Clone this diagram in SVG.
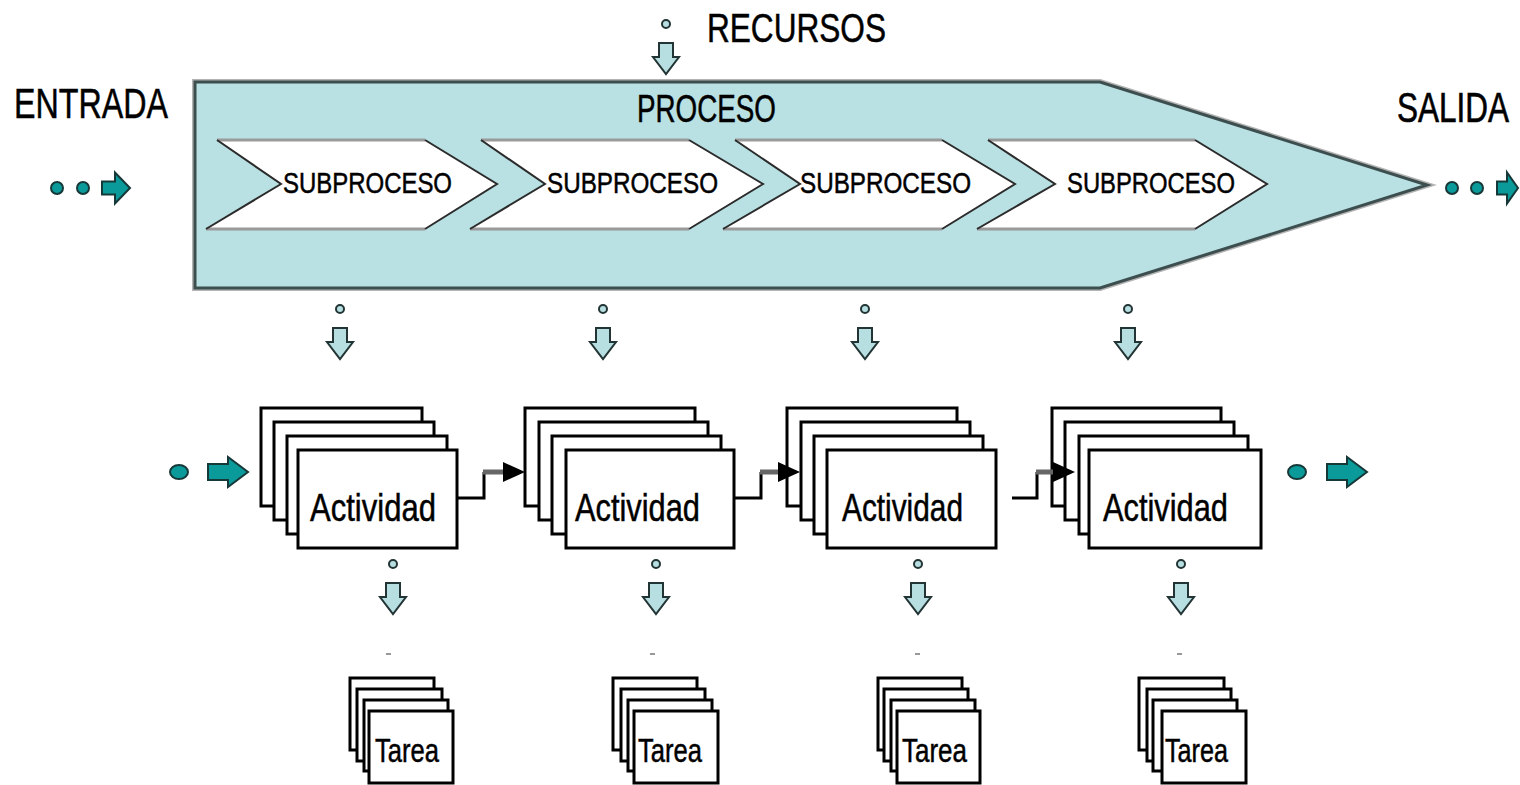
<svg xmlns="http://www.w3.org/2000/svg" xmlns:xlink="http://www.w3.org/1999/xlink" width="1520" height="785" viewBox="0 0 1520 785">
  <defs>
    <style>
      .lbl { font-family: "Liberation Sans", Arial, sans-serif; fill: #000; stroke: #000; stroke-width: 0.5; }
      .box { fill: #fff; stroke: #000; stroke-width: 3; }
      .teal { fill: #0a9a9a; stroke: #173838; stroke-width: 2; }
      .res { fill: #b7dfe2; stroke: #233434; stroke-width: 2; }
      .chev { fill: #fff; }
      .chev-h { stroke: #9a9a9a; stroke-width: 3; fill: none; }
      .chev-d { stroke: #2b2b2b; stroke-width: 2; fill: none; }
      .link { fill: none; stroke: #000; stroke-width: 3; }
      .link-end { stroke: #666; stroke-width: 5; }
      .tick { fill: #999; }
    </style>
    <!-- light blue resource arrow pointing down, origin at top centre -->
    <path id="downArrow" class="res" d="M-7,0 h14 v14 h6 l-13,17 l-13,-17 h6 z"/>
    <!-- teal flow arrow pointing right, origin at left middle -->
    <path id="rightArrow" class="teal" d="M0,-8 h20 v-7 l20,15 l-20,15 v-7 h-20 z"/>
    <path id="rightArrowSmall" class="teal" d="M0,-6.5 h13 v-9 l15,15.5 l-15,15.5 v-9 h-13 z"/>
    <path id="rightArrowEdge" class="teal" d="M0,-6.5 h10 v-9 l11,15.5 l-11,15.5 v-9 h-10 z"/>
  </defs>

  <rect width="1520" height="785" fill="#fff"/>

  <!-- Inputs, outputs and resources -->
  <g id="entrada">
    <text class="lbl" x="14" y="118" font-size="42" textLength="154" lengthAdjust="spacingAndGlyphs">ENTRADA</text>
    <circle class="teal" cx="57" cy="188" r="6"/>
    <circle class="teal" cx="83" cy="188" r="6"/>
    <use xlink:href="#rightArrowSmall" x="102" y="188"/>
  </g>

  <g id="salida">
    <!-- tall narrow lettering: smaller font stretched vertically -->
    <text class="lbl" x="0" y="0" font-size="31.5" transform="translate(1397 122) scale(1 1.33)" stroke-width="0.4">SALIDA</text>
    <circle class="teal" cx="1452" cy="188" r="6"/>
    <circle class="teal" cx="1477" cy="188" r="6"/>
    <use xlink:href="#rightArrowEdge" x="1497" y="188"/>
  </g>

  <g id="recursos">
    <text class="lbl" x="707" y="42" font-size="40" textLength="179" lengthAdjust="spacingAndGlyphs">RECURSOS</text>
    <circle class="res" cx="666" cy="24" r="4"/>
    <use xlink:href="#downArrow" x="666" y="43"/>
  </g>

  <!-- Process band -->
  <g id="proceso">
    <polygon points="195,82 1100,82 1427,185 1100,288 195,288" fill="none" stroke="#b4b4b4" stroke-width="6"/>
    <polygon points="195,82 1100,82 1427,185 1100,288 195,288" fill="#b9e0e3" stroke="#3d4e4f" stroke-width="3"/>
    <text class="lbl" x="637" y="122" font-size="38" textLength="139" lengthAdjust="spacingAndGlyphs">PROCESO</text>
  </g>

  <g id="subproceso-1">
    <polygon class="chev" points="217,140 425,140 497,184 425,229 206,229 281,184"/>
    <path class="chev-h" d="M217,140 H425 M206,229 H425"/>
    <path class="chev-d" d="M217,140 L281,184 L206,229 M425,140 L497,184 L425,229"/>
    <text class="lbl" x="283" y="193" font-size="29" textLength="169" lengthAdjust="spacingAndGlyphs">SUBPROCESO</text>
  </g>
  <g id="subproceso-2">
    <polygon class="chev" points="481,140 689,140 763,184 689,229 470,229 545,184"/>
    <path class="chev-h" d="M481,140 H689 M470,229 H689"/>
    <path class="chev-d" d="M481,140 L545,184 L470,229 M689,140 L763,184 L689,229"/>
    <text class="lbl" x="547" y="193" font-size="29" textLength="171" lengthAdjust="spacingAndGlyphs">SUBPROCESO</text>
  </g>
  <g id="subproceso-3">
    <polygon class="chev" points="735,140 942,140 1015,184 942,229 723,229 800,184"/>
    <path class="chev-h" d="M735,140 H942 M723,229 H942"/>
    <path class="chev-d" d="M735,140 L800,184 L723,229 M942,140 L1015,184 L942,229"/>
    <text class="lbl" x="800" y="193" font-size="29" textLength="171" lengthAdjust="spacingAndGlyphs">SUBPROCESO</text>
  </g>
  <g id="subproceso-4">
    <polygon class="chev" points="988,140 1195,140 1267,184 1195,229 977,229 1055,184"/>
    <path class="chev-h" d="M988,140 H1195 M977,229 H1195"/>
    <path class="chev-d" d="M988,140 L1055,184 L977,229 M1195,140 L1267,184 L1195,229"/>
    <text class="lbl" x="1067" y="193" font-size="29" textLength="168" lengthAdjust="spacingAndGlyphs">SUBPROCESO</text>
  </g>

  <!-- Resource feeds into the activity level -->
  <g id="feeds-actividad">
    <circle class="res" cx="340" cy="309" r="4"/>
    <use xlink:href="#downArrow" x="340" y="328"/>
    <circle class="res" cx="603" cy="309" r="4"/>
    <use xlink:href="#downArrow" x="603" y="328"/>
    <circle class="res" cx="865" cy="309" r="4"/>
    <use xlink:href="#downArrow" x="865" y="328"/>
    <circle class="res" cx="1128" cy="309" r="4"/>
    <use xlink:href="#downArrow" x="1128" y="328"/>
  </g>

  <!-- Activity stacks -->
  <g id="actividad-1">
    <rect class="box" x="261" y="408" width="161" height="98"/>
    <rect class="box" x="274" y="422" width="160" height="98"/>
    <rect class="box" x="287" y="436" width="160" height="98"/>
    <rect class="box" x="298" y="450" width="159" height="98"/>
    <text class="lbl" x="310" y="521" font-size="39" textLength="126" lengthAdjust="spacingAndGlyphs">Actividad</text>
  </g>
  <g id="actividad-2">
    <rect class="box" x="525" y="408" width="170" height="98"/>
    <rect class="box" x="539" y="422" width="169" height="98"/>
    <rect class="box" x="552" y="436" width="169" height="98"/>
    <rect class="box" x="566" y="450" width="168" height="98"/>
    <text class="lbl" x="575" y="521" font-size="39" textLength="125" lengthAdjust="spacingAndGlyphs">Actividad</text>
  </g>
  <g id="actividad-3">
    <rect class="box" x="787" y="408" width="170" height="98"/>
    <rect class="box" x="801" y="422" width="169" height="98"/>
    <rect class="box" x="814" y="436" width="169" height="98"/>
    <rect class="box" x="827" y="450" width="169" height="98"/>
    <text class="lbl" x="842" y="521" font-size="39" textLength="121" lengthAdjust="spacingAndGlyphs">Actividad</text>
  </g>
  <g id="actividad-4">
    <rect class="box" x="1052" y="408" width="169" height="98"/>
    <rect class="box" x="1065" y="422" width="169" height="98"/>
    <rect class="box" x="1079" y="436" width="169" height="98"/>
    <rect class="box" x="1089" y="450" width="172" height="98"/>
    <text class="lbl" x="1103" y="521" font-size="39" textLength="125" lengthAdjust="spacingAndGlyphs">Actividad</text>
  </g>

  <!-- Activity-level input and output -->
  <g id="actividad-entrada">
    <ellipse class="teal" cx="179" cy="472" rx="9" ry="7"/>
    <use xlink:href="#rightArrow" x="208" y="472"/>
  </g>
  <g id="actividad-salida">
    <ellipse class="teal" cx="1297" cy="472" rx="9" ry="7"/>
    <use xlink:href="#rightArrow" x="1327" y="472"/>
  </g>

  <!-- Resource feeds into the task level -->
  <g id="feeds-tarea">
    <circle class="res" cx="393" cy="564" r="4"/>
    <use xlink:href="#downArrow" x="393" y="583"/>
    <rect class="tick" x="386" y="653" width="5" height="2"/>
    <circle class="res" cx="656" cy="564" r="4"/>
    <use xlink:href="#downArrow" x="656" y="583"/>
    <rect class="tick" x="650" y="653" width="5" height="2"/>
    <circle class="res" cx="918" cy="564" r="4"/>
    <use xlink:href="#downArrow" x="918" y="583"/>
    <rect class="tick" x="915" y="653" width="5" height="2"/>
    <circle class="res" cx="1181" cy="564" r="4"/>
    <use xlink:href="#downArrow" x="1181" y="583"/>
    <rect class="tick" x="1177" y="653" width="5" height="2"/>
  </g>

  <!-- Task stacks -->
  <g id="tarea-1">
    <rect class="box" x="350" y="678" width="84" height="72"/>
    <rect class="box" x="357" y="689" width="85" height="72"/>
    <rect class="box" x="364" y="700" width="84" height="71"/>
    <rect class="box" x="369" y="711" width="84" height="72"/>
    <text class="lbl" x="375" y="762" font-size="33" textLength="64" lengthAdjust="spacingAndGlyphs">Tarea</text>
  </g>
  <g id="tarea-2">
    <rect class="box" x="613" y="678" width="84" height="72"/>
    <rect class="box" x="621" y="689" width="84" height="72"/>
    <rect class="box" x="628" y="700" width="84" height="71"/>
    <rect class="box" x="634" y="711" width="84" height="72"/>
    <text class="lbl" x="638" y="762" font-size="33" textLength="64" lengthAdjust="spacingAndGlyphs">Tarea</text>
  </g>
  <g id="tarea-3">
    <rect class="box" x="878" y="678" width="84" height="72"/>
    <rect class="box" x="884" y="689" width="84" height="72"/>
    <rect class="box" x="891" y="700" width="84" height="71"/>
    <rect class="box" x="897" y="711" width="83" height="72"/>
    <text class="lbl" x="902" y="762" font-size="33" textLength="65" lengthAdjust="spacingAndGlyphs">Tarea</text>
  </g>
  <g id="tarea-4">
    <rect class="box" x="1139" y="678" width="85" height="72"/>
    <rect class="box" x="1147" y="689" width="84" height="72"/>
    <rect class="box" x="1153" y="700" width="84" height="71"/>
    <rect class="box" x="1162" y="711" width="84" height="72"/>
    <text class="lbl" x="1165" y="762" font-size="33" textLength="63" lengthAdjust="spacingAndGlyphs">Tarea</text>
  </g>

  <!-- Connectors between activity stacks -->
  <g id="connectors">
    <polyline class="link" points="457,498 484,498 484,472"/>
    <line class="link-end" x1="483" y1="472" x2="505" y2="472"/>
    <polygon points="503,462 525,472 503,482" fill="#000"/>

    <polyline class="link" points="734,498 761,498 761,472"/>
    <line class="link-end" x1="760" y1="472" x2="780" y2="472"/>
    <polygon points="778,462 800,472 778,482" fill="#000"/>

    <polyline class="link" points="1012,498 1037,498 1037,472"/>
    <line class="link-end" x1="1036" y1="472" x2="1055" y2="472"/>
    <polygon points="1053,462 1075,472 1053,482" fill="#000"/>
  </g>
</svg>
